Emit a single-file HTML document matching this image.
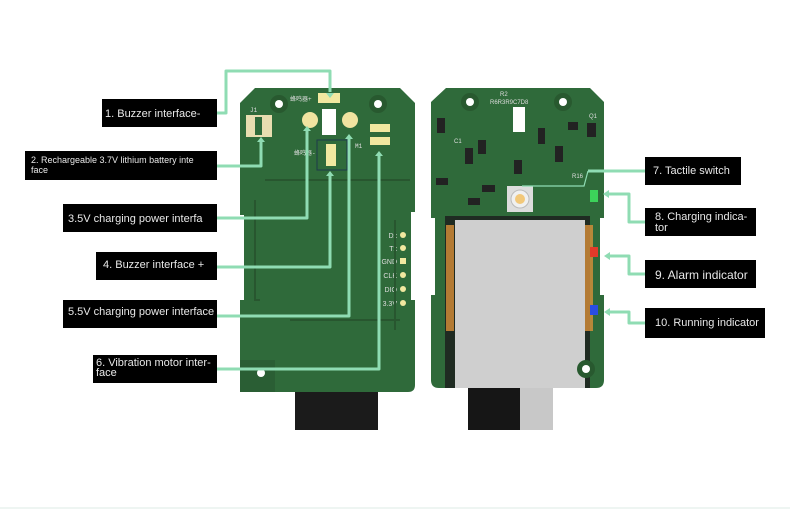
<!DOCTYPE html>
<html><head><meta charset="utf-8"><style>
html,body{margin:0;padding:0;background:#fff;width:790px;height:510px;overflow:hidden}
svg{display:block}
text{font-family:"Liberation Sans","Noto Sans CJK SC",sans-serif}
.lb{fill:#e8e8e8;font-size:11px}
.sm{fill:#e8e8e8;font-size:9px}
.pcb{fill:#ddd;font-size:6px;font-family:"Liberation Mono",monospace}
</style></head><body>
<svg width="790" height="510" viewBox="0 0 790 510">
<line x1="0" y1="508" x2="790" y2="508" stroke="#eef5f2" stroke-width="2"/>
<!-- LEFT BOARD -->
<rect x="295" y="388" width="83" height="42" fill="#1b1b1b"/>
<path d="M255 88 H400 L415 103 V212 H411 V300 H415 V385 Q415 392 408 392 H247 Q240 392 240 385 V300 H244 V215 H240 V103 Z" fill="#2f6a3a"/>
<rect x="240" y="360" width="35" height="32" fill="#2a5e34"/>
<circle cx="261" cy="373" r="4" fill="#fff"/>
<circle cx="279" cy="104" r="9" fill="#28592f"/><circle cx="279" cy="104" r="4" fill="#fff"/>
<circle cx="378" cy="104" r="9" fill="#28592f"/><circle cx="378" cy="104" r="4" fill="#fff"/>
<rect x="318" y="93" width="22" height="10" fill="#f1e8a0"/>
<text x="290" y="101" class="pcb">蜂鸣器+</text>
<rect x="322" y="109" width="14" height="26" fill="#fff"/>
<circle cx="310" cy="120" r="8" fill="#f1e3a0"/>
<circle cx="350" cy="120" r="8" fill="#f1e3a0"/>
<rect x="246" y="115" width="26" height="22" fill="#e8ddb0"/><rect x="255" y="117" width="7" height="18" fill="#2f6a3a"/>
<rect x="370" y="124" width="20" height="8" fill="#f1e8a0"/><rect x="370" y="137" width="20" height="8" fill="#f1e8a0"/>
<rect x="317" y="140" width="30" height="30" fill="none" stroke="#1d3a4a" stroke-width="1"/>
<rect x="326" y="144" width="10" height="22" fill="#f1e8a0"/>
<text x="294" y="155" class="pcb">蜂鸣器-</text>
<text x="250" y="112" class="pcb">J1</text><text x="355" y="148" class="pcb">M1</text>
<g fill="#f1e8a0"><circle cx="403" cy="235" r="3"/><circle cx="403" cy="248" r="3"/><rect x="400" y="258" width="6" height="6"/><circle cx="403" cy="275" r="3"/><circle cx="403" cy="289" r="3"/><circle cx="403" cy="303" r="3"/></g>
<g class="pcb" text-anchor="end" style="font-size:7px"><text x="397" y="238">Dx</text><text x="397" y="251">Tx</text><text x="397" y="264">GND</text><text x="397" y="278">CLK</text><text x="397" y="292">DIO</text><text x="397" y="306">3.3V</text></g>
<g fill="none" stroke="#28562f" stroke-width="2"><path d="M255 200 V300 H260"/><path d="M265 180 H410"/><path d="M290 320 H400"/><path d="M395 220 V330"/></g>
<!-- RIGHT BOARD -->
<rect x="468" y="385" width="85" height="45" fill="#c8c8c8"/>
<rect x="468" y="385" width="52" height="45" fill="#161616"/>
<path d="M446 88 H590 L604 102 V218 H600 V295 H604 V380 Q604 388 596 388 H439 Q431 388 431 380 V295 H435 V218 H431 V102 Z" fill="#2f6a3a"/>
<rect x="445" y="216" width="145" height="172" fill="#1f2b22"/>
<rect x="455" y="220" width="130" height="168" fill="#cfcfcf"/>
<g fill="#d9903a"><rect x="446" y="225" width="8" height="106" opacity=".8"/><rect x="585" y="225" width="8" height="106" opacity=".8"/></g>
<circle cx="470" cy="102" r="9" fill="#28592f"/><circle cx="470" cy="102" r="4" fill="#fff"/>
<circle cx="563" cy="102" r="9" fill="#28592f"/><circle cx="563" cy="102" r="4" fill="#fff"/>
<circle cx="586" cy="369" r="9" fill="#28592f"/><circle cx="586" cy="369" r="4" fill="#fff"/>
<rect x="513" y="107" width="12" height="25" fill="#fff"/>
<rect x="507" y="186" width="26" height="26" fill="#ddd"/><circle cx="520" cy="199" r="9" fill="#f0f0f0" stroke="#bbb"/><circle cx="520" cy="199" r="5" fill="#f2c87a"/>
<rect x="590" y="190" width="8" height="12" fill="#3cd35a"/>
<rect x="590" y="247" width="8" height="10" fill="#e23a2a"/>
<rect x="590" y="305" width="8" height="10" fill="#2a4de0"/>
<g fill="#222"><rect x="465" y="148" width="8" height="16"/><rect x="478" y="140" width="8" height="14"/><rect x="538" y="128" width="7" height="16"/><rect x="555" y="146" width="8" height="16"/><rect x="568" y="122" width="10" height="8"/><rect x="587" y="123" width="9" height="14"/><rect x="482" y="185" width="13" height="7"/><rect x="436" y="178" width="12" height="7"/><rect x="514" y="160" width="8" height="14"/><rect x="468" y="198" width="12" height="7"/><rect x="437" y="118" width="8" height="15"/></g>
<g class="pcb"><text x="500" y="96">R2</text><text x="490" y="104">R6R3R9C7D8</text><text x="454" y="143">C1</text><text x="572" y="178">R16</text><text x="589" y="118">Q1</text></g>
<!-- CONNECTORS -->
<g fill="none" stroke="#8fdcb3" stroke-width="3" stroke-linejoin="round">
<path d="M216 113 H226 V71 H330 V92"/>
<path d="M217 166 H261 V142"/>
<path d="M217 218 H307 V131"/>
<path d="M217 267 H330 V176"/>
<path d="M217 316 H349 V139"/>
<path d="M217 369 H379 V156"/>
<path d="M645 171 H588"/>
<path d="M645 222 H629 V194 H608"/>
<path d="M645 274 H629 V256 H609"/>
<path d="M645 323 H629 V312 H609"/>
</g>
<path d="M588 171 L584 186 H522" fill="none" stroke="#8fdcb3" stroke-width="1.2"/>
<g fill="#8fdcb3"><path d="M326 93 L334 93 L330 98 Z"/><path d="M257 142 L265 142 L261 137 Z"/><path d="M303 131 L311 131 L307 126 Z"/><path d="M326 176 L334 176 L330 171 Z"/><path d="M345 139 L353 139 L349 134 Z"/><path d="M375 156 L383 156 L379 151 Z"/><path d="M609 190 L609 198 L603 194 Z"/><path d="M610 252 L610 260 L604 256 Z"/><path d="M610 308 L610 316 L604 312 Z"/></g>
<!-- LABELS -->
<rect x="102" y="99" width="115" height="28" fill="#000"/><text x="105" y="117" class="lb">1. Buzzer interface-</text>
<rect x="25" y="151" width="192" height="29" fill="#000"/><text x="31" y="163" class="sm">2. Rechargeable 3.7V lithium battery inte</text><text x="31" y="173" class="sm">face</text>
<rect x="63" y="204" width="154" height="28" fill="#000"/><text x="68" y="222" class="lb">3.5V charging power interfa</text>
<rect x="96" y="252" width="121" height="28" fill="#000"/><text x="103" y="268" class="lb">4. Buzzer interface +</text>
<rect x="63" y="300" width="154" height="28" fill="#000"/><text x="68" y="315" class="lb">5.5V charging power interface</text>
<rect x="93" y="355" width="124" height="28" fill="#000"/><text x="96" y="366" class="lb">6. Vibration motor inter-</text><text x="96" y="376" class="lb">face</text>
<rect x="645" y="157" width="96" height="28" fill="#000"/><text x="653" y="174" class="lb">7. Tactile switch</text>
<rect x="645" y="208" width="111" height="28" fill="#000"/><text x="655" y="220" class="lb">8. Charging indica-</text><text x="655" y="231" class="lb">tor</text>
<rect x="645" y="260" width="111" height="28" fill="#000"/><text x="655" y="279" class="lb" style="font-size:12px">9. Alarm indicator</text>
<rect x="645" y="308" width="120" height="30" fill="#000"/><text x="655" y="326" class="lb">10. Running indicator</text>
</svg>
</body></html>
